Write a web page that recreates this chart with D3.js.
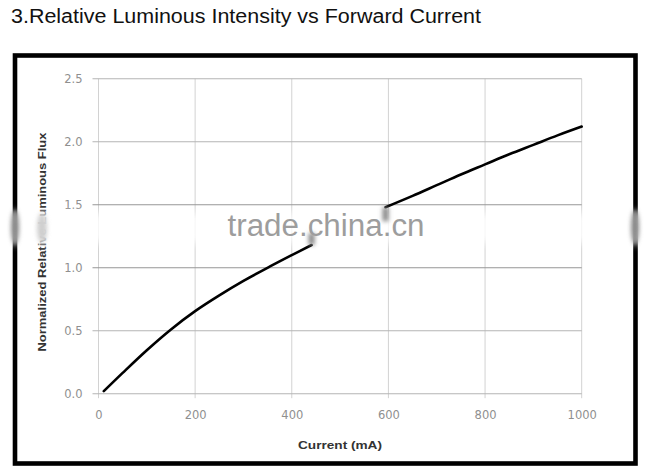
<!DOCTYPE html>
<html>
<head>
<meta charset="utf-8">
<script src="https://cdn.jsdelivr.net/npm/d3@7"></script>
<style>
  html, body { margin: 0; padding: 0; background: #fff; }
  svg { display: block; }
</style>
</head>
<body>
<svg id="chart" width="650" height="476"></svg>
<script>
// ---- data ----
const chartTitle = "3.Relative Luminous Intensity vs Forward Current";
const xTitle = "Current (mA)";
const yTitle = "Normalized Relative Luminous Flux";
const watermark = "trade.china.cn";
const xTicks = [0, 200, 400, 600, 800, 1000];
const yTicks = [0.0, 0.5, 1.0, 1.5, 2.0, 2.5];
// current (mA) and flux; null marks the part hidden by the watermark
const current = [11, 50, 100, 150, 200, 250, 300, 355, 400, 441, 520, 594, 650, 700, 750, 800, 850, 900, 950, 1000];
const flux    = [0.02, 0.165, 0.345, 0.51, 0.655, 0.78, 0.895, 1.01, 1.10, 1.18, null, 1.48, 1.57, 1.655, 1.74, 1.82, 1.90, 1.975, 2.05, 2.12];

const svg = d3.select("#chart");
const defs = svg.append("defs");
defs.append("filter").attr("id", "blurBand").attr("x", "-10%").attr("y", "-50%").attr("width", "120%").attr("height", "200%")
  .append("feGaussianBlur").attr("stdDeviation", 4);
defs.append("filter").attr("id", "blurSmall").attr("x", "-100%").attr("y", "-100%").attr("width", "300%").attr("height", "300%")
  .append("feGaussianBlur").attr("stdDeviation", 2);

const x = d3.scaleLinear().domain([0, 1000]).range([98.5, 581.7]);
const y = d3.scaleLinear().domain([0, 2.5]).range([393.7, 78.7]);

// title
svg.append("text")
  .attr("x", 11).attr("y", 23)
  .attr("font-family", "Liberation Sans, Arial, sans-serif")
  .attr("font-size", 19.5)
  .attr("fill", "#111")
  .attr("textLength", 470).attr("lengthAdjust", "spacingAndGlyphs")
  .text(chartTitle);

// frame
svg.append("rect")
  .attr("x", 15).attr("y", 55.5).attr("width", 620.5).attr("height", 408)
  .attr("fill", "none").attr("stroke", "#000").attr("stroke-width", 4.6);

// vertical gridlines
svg.append("g").selectAll("line").data(xTicks).join("line")
  .attr("x1", d => x(d)).attr("x2", d => x(d))
  .attr("y1", y(2.5)).attr("y2", y(0) + 4.5)
  .attr("stroke", "#d2d2d2").attr("stroke-width", 1);

// horizontal gridlines
svg.append("g").selectAll("line").data(yTicks).join("line")
  .attr("x1", x(0) - 6).attr("x2", x(1000))
  .attr("y1", d => y(d)).attr("y2", d => y(d))
  .attr("stroke", d => (d === 1.0 || d === 1.5) ? "#969696" : "#b4b4b4").attr("stroke-width", 1.1);

// y axis labels
const yAxis = svg.append("g")
  .attr("transform", `translate(${x(0) - 6},0)`)
  .call(d3.axisLeft(y).tickValues(yTicks).tickSize(0).tickPadding(10).tickFormat(d3.format(".1f")));
yAxis.select(".domain").remove();
yAxis.selectAll("text")
  .attr("font-family", "DejaVu Sans, sans-serif").attr("font-size", 11.5).attr("fill", "#8f8f8f");

// x axis labels
const xAxis = svg.append("g")
  .attr("transform", `translate(0,${y(0)})`)
  .call(d3.axisBottom(x).tickValues(xTicks).tickSize(0).tickPadding(17).tickFormat(d3.format("d")));
xAxis.select(".domain").remove();
xAxis.selectAll("text")
  .attr("font-family", "DejaVu Sans, sans-serif").attr("font-size", 11.5).attr("fill", "#8f8f8f");

// axis titles
svg.append("text")
  .attr("x", 340).attr("y", 449)
  .attr("text-anchor", "middle")
  .attr("font-family", "Liberation Sans, Arial, sans-serif").attr("font-weight", "bold")
  .attr("font-size", 11.5).attr("fill", "#333")
  .attr("textLength", 84).attr("lengthAdjust", "spacingAndGlyphs")
  .text(xTitle);
svg.append("text")
  .attr("transform", "translate(46,242) rotate(-90)")
  .attr("text-anchor", "middle")
  .attr("font-family", "Liberation Sans, Arial, sans-serif").attr("font-weight", "bold")
  .attr("font-size", 11.5).attr("fill", "#333")
  .attr("textLength", 219).attr("lengthAdjust", "spacingAndGlyphs")
  .text(yTitle);

// faded band left by the watermark
svg.append("rect")
  .attr("x", -10).attr("y", 213).attr("width", 670).attr("height", 30)
  .attr("fill", "#fff").attr("opacity", 0.8).attr("filter", "url(#blurBand)");

// smudges on the frame edges and the y title
const smudges = [[15, 227, 4, 17], [635, 227, 4, 17], [42, 228, 5, 15]];
svg.append("g").selectAll("ellipse").data(smudges).join("ellipse")
  .attr("cx", d => d[0]).attr("cy", d => d[1]).attr("rx", d => d[2]).attr("ry", d => d[3])
  .attr("fill", (d, i) => i < 2 ? "#8a8a8a" : "#cfcfcf").attr("filter", "url(#blurSmall)");

// curve
const pts = current.map((c, i) => [c, flux[i]]);
const line = d3.line()
  .defined(d => d[1] !== null)
  .x(d => x(d[0])).y(d => y(d[1]))
  .curve(d3.curveCatmullRom.alpha(0.5));
svg.append("path")
  .datum(pts)
  .attr("d", line)
  .attr("fill", "none").attr("stroke", "#000").attr("stroke-width", 2.6)
  .attr("stroke-linecap", "round");

// gray smudges at the break of the curve
svg.append("rect").attr("x", x(441) - 3).attr("y", y(1.18) - 12).attr("width", 6).attr("height", 12)
  .attr("fill", "#888").attr("filter", "url(#blurSmall)");
svg.append("rect").attr("x", x(594) - 3).attr("y", y(1.48)).attr("width", 6).attr("height", 14)
  .attr("fill", "#888").attr("filter", "url(#blurSmall)");

// watermark
svg.append("text")
  .attr("x", 326).attr("y", 236)
  .attr("text-anchor", "middle")
  .attr("font-family", "Liberation Sans, Arial, sans-serif")
  .attr("font-size", 31).attr("fill", "#9d9d9d")
  .attr("textLength", 197).attr("lengthAdjust", "spacingAndGlyphs")
  .text(watermark);
</script>
</body>
</html>
